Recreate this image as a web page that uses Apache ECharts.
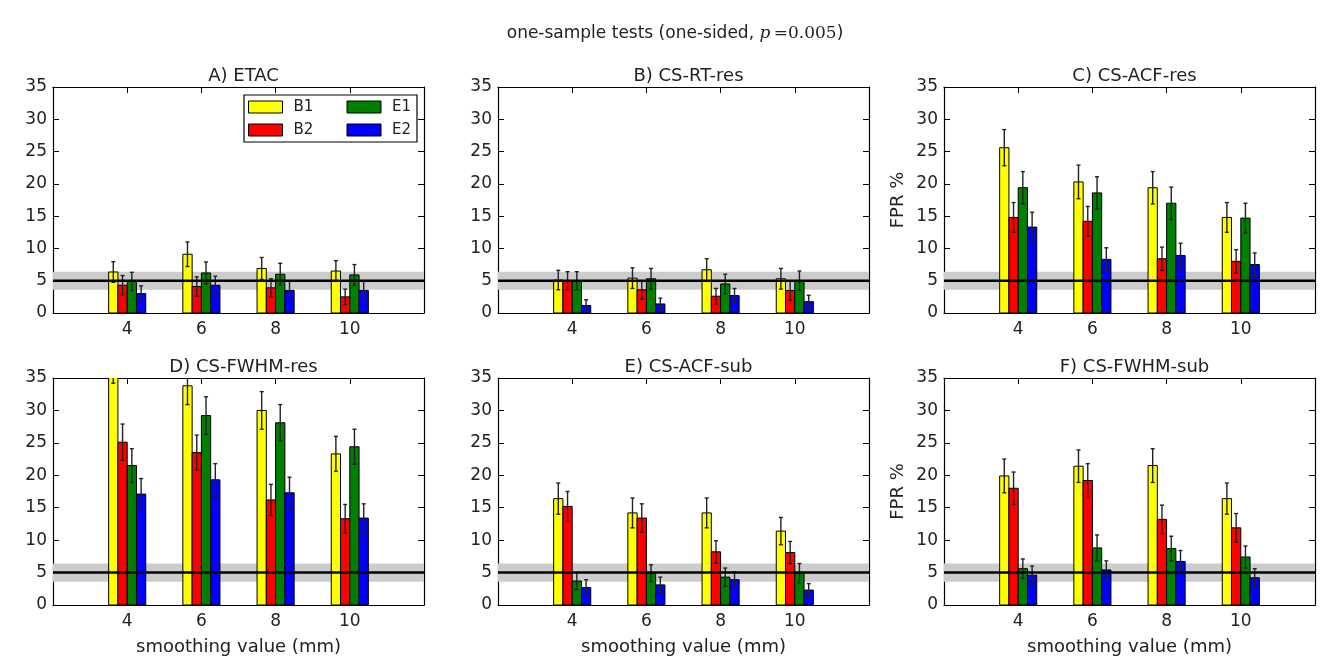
<!DOCTYPE html>
<html>
<head>
<meta charset="utf-8">
<script src="https://cdn.jsdelivr.net/npm/echarts@6/dist/echarts.min.js"></script>
<style>
  html, body { margin: 0; padding: 0; background: #fff; }
  #chart { width: 1323px; height: 666px; }
</style>
</head>
<body>
<div id="chart"></div>
<script>
// Smoothing kernels (mm) on the x axis and the four data groups
const smoothing = [4, 6, 8, 10];
const groups = ['B1', 'B2', 'E1', 'E2'];
const groupColors = ['#ffff00', '#ff0000', '#008000', '#0000ff'];
const yTicks = [0, 5, 10, 15, 20, 25, 30, 35];

// Nominal false-positive rate and its confidence band (%)
const nominalRate = 5;
const bandLow = 3.6;
const bandHigh = 6.4;

const panelTitles = ['A) ETAC', 'B) CS-RT-res', 'C) CS-ACF-res', 'D) CS-FWHM-res', 'E) CS-ACF-sub', 'F) CS-FWHM-sub'];

// False-positive rate (%) per group (rows B1, B2, E1, E2) at each smoothing value
const etacFPR = [[6.35, 9.1, 6.9, 6.5], [4.3, 4.1, 3.9, 2.5], [4.9, 6.2, 6.0, 5.9], [3.0, 4.3, 3.5, 3.5]];
const etacErr = [[1.6, 1.9, 1.7, 1.6], [1.5, 1.5, 1.4, 1.2], [1.4, 1.7, 1.7, 1.6], [1.2, 1.4, 1.4, 1.4]];

const csRtResFPR = [[5.1, 5.4, 6.7, 5.3], [5.0, 3.6, 2.6, 3.5], [5.0, 5.3, 4.5, 5.0], [1.15, 1.4, 2.7, 1.75]];
const csRtResErr = [[1.5, 1.6, 1.7, 1.6], [1.4, 1.4, 1.2, 1.5], [1.4, 1.6, 1.5, 1.5], [0.9, 0.9, 1.1, 1.0]];

const csAcfResFPR = [[25.6, 20.3, 19.4, 14.8], [14.8, 14.2, 8.4, 8.0], [19.4, 18.6, 17.0, 14.7], [13.3, 8.3, 8.9, 7.5]];
const csAcfResErr = [[2.8, 2.6, 2.5, 2.3], [2.3, 2.3, 1.8, 1.8], [2.5, 2.5, 2.5, 2.3], [2.3, 1.8, 1.9, 1.8]];

const csFwhmResFPR = [[37.2, 33.8, 30.0, 23.3], [25.1, 23.5, 16.2, 13.3], [21.5, 29.2, 28.1, 24.4], [17.1, 19.3, 17.3, 13.4]];
const csFwhmResErr = [[3.0, 2.9, 2.9, 2.7], [2.8, 2.7, 2.4, 2.2], [2.6, 2.9, 2.8, 2.7], [2.4, 2.5, 2.4, 2.2]];

const csAcfSubFPR = [[16.4, 14.2, 14.2, 11.4], [15.2, 13.4, 8.2, 8.1], [3.7, 4.9, 4.3, 4.9], [2.7, 3.1, 3.9, 2.3]];
const csAcfSubErr = [[2.4, 2.3, 2.3, 2.1], [2.3, 2.2, 1.7, 1.7], [1.3, 1.3, 1.4, 1.5], [1.2, 1.2, 1.2, 1.0]];

const csFwhmSubFPR = [[19.9, 21.4, 21.5, 16.4], [18.0, 19.2, 13.2, 11.9], [5.6, 8.8, 8.7, 7.4], [4.6, 5.4, 6.7, 4.2]];
const csFwhmSubErr = [[2.6, 2.5, 2.6, 2.4], [2.5, 2.6, 2.2, 2.2], [1.5, 2.0, 1.9, 1.7], [1.4, 1.4, 1.7, 1.4]];

const panelValues = [etacFPR, csRtResFPR, csAcfResFPR, csFwhmResFPR, csAcfSubFPR, csFwhmSubFPR];
const panelErrors = [etacErr, csRtResErr, csAcfResErr, csFwhmResErr, csAcfSubErr, csFwhmSubErr];

// ---- layout ----
const FONT = 'DejaVu Sans';
const TXT = '#222';
const gridLefts = [53, 498, 944];
const gridTops = [87, 378];
const gridW = 371;
const gridH = [226, 227];
const barSpan = 1;            // total width of one group of bars, in x units
const barW = barSpan / groups.length;

const grids = [], xAxes = [], yAxes = [], series = [], titles = [];

titles.push({
  text: 'one-sample tests (one-sided, {p|p}{eq|\u2009=0.005})',
  left: 670, top: 20, textAlign: 'center',
  textStyle: {
    fontFamily: FONT, fontSize: 17, fontWeight: 'normal', color: TXT,
    rich: {
      p: { fontFamily: 'DejaVu Serif', fontStyle: 'italic', fontSize: 17, color: TXT },
      eq: { fontFamily: 'DejaVu Serif', fontSize: 17, color: TXT }
    }
  }
});

for (let p = 0; p < 6; p++) {
  const row = Math.floor(p / 3), col = p % 3;
  const left = gridLefts[col], top = gridTops[row];
  grids.push({ left: left, top: top, width: gridW, height: gridH[row], containLabel: false });

  titles.push({
    text: panelTitles[p], left: left + gridW / 2, top: top - 25, textAlign: 'center',
    textStyle: { fontFamily: FONT, fontSize: 18, fontWeight: 'normal', color: TXT }
  });

  const axisLine = { show: true, onZero: false, lineStyle: { color: '#000', width: 1.2 } };
  const tick = { show: true, inside: true, length: 6, lineStyle: { color: '#000', width: 1 } };

  xAxes.push({
    gridIndex: p, type: 'value', position: 'bottom', min: 2, max: 12, interval: 2,
    axisLine: axisLine, axisTick: tick, splitLine: { show: false },
    axisLabel: {
      showMinLabel: false, showMaxLabel: false, margin: 8,
      fontFamily: FONT, fontSize: 17, color: TXT
    },
    name: row === 1 ? 'smoothing value (mm)' : '',
    nameLocation: 'middle', nameGap: 33,
    nameTextStyle: { fontFamily: FONT, fontSize: 18, color: TXT }
  });
  xAxes.push({
    gridIndex: p, type: 'value', position: 'top', min: 2, max: 12, interval: 2,
    axisLine: axisLine, axisTick: tick, splitLine: { show: false }, axisLabel: { show: false }
  });
  yAxes.push({
    gridIndex: p, type: 'value', position: 'left', min: yTicks[0], max: yTicks[yTicks.length - 1], interval: 5,
    axisLine: axisLine, axisTick: tick, splitLine: { show: false },
    axisLabel: { margin: 6, fontFamily: FONT, fontSize: 17, color: TXT },
    name: col === 2 ? 'FPR %' : '',
    nameLocation: 'middle', nameGap: 37,
    nameTextStyle: { fontFamily: FONT, fontSize: 18, color: TXT }
  });
  yAxes.push({
    gridIndex: p, type: 'value', position: 'right', min: yTicks[0], max: yTicks[yTicks.length - 1], interval: 5,
    axisLine: axisLine, axisTick: tick, splitLine: { show: false }, axisLabel: { show: false }
  });

  const xi = 2 * p, yi = 2 * p;

  // shaded confidence band behind the bars
  series.push({
    type: 'custom', name: 'band', xAxisIndex: xi, yAxisIndex: yi, z: 1, silent: true,
    data: [[bandLow, bandHigh]],
    renderItem: function (params, api) {
      const cs = params.coordSys;
      const yHi = api.coord([2, api.value(1)])[1];
      const yLo = api.coord([2, api.value(0)])[1];
      return { type: 'rect', shape: { x: cs.x, y: yHi, width: cs.width, height: yLo - yHi },
               style: { fill: '#cccccc' } };
    }
  });

  // bars with error bars, one series per group
  for (let g = 0; g < groups.length; g++) {
    const vals = panelValues[p][g], errs = panelErrors[p][g];
    series.push({
      type: 'custom', name: groups[g], xAxisIndex: xi, yAxisIndex: yi, z: 2, clip: true,
      data: smoothing.map((s, i) => [s, vals[i], errs[i]]),
      encode: { x: 0, y: 1 },
      renderItem: function (params, api) {
        const x = api.value(0), v = api.value(1), e = api.value(2);
        const x0 = x - barSpan / 2 + g * barW;
        const pBase = api.coord([x0, 0]);
        const pTop = api.coord([x0 + barW, v]);
        const xm = api.coord([x0 + barW / 2, 0])[0];
        const yUp = api.coord([x0, v + e])[1];
        const yDn = api.coord([x0, v - e])[1];
        const cap = 2;
        const errStyle = { stroke: '#222', lineWidth: 1.4 };
        return {
          type: 'group',
          children: [
            { type: 'rect', shape: { x: pBase[0], y: pTop[1], width: pTop[0] - pBase[0], height: pBase[1] - pTop[1] },
              style: { fill: groupColors[g], stroke: '#000', lineWidth: 1 } },
            { type: 'line', shape: { x1: xm, y1: yUp, x2: xm, y2: yDn }, style: errStyle },
            { type: 'line', shape: { x1: xm - cap, y1: yUp, x2: xm + cap, y2: yUp }, style: errStyle },
            { type: 'line', shape: { x1: xm - cap, y1: yDn, x2: xm + cap, y2: yDn }, style: errStyle }
          ]
        };
      }
    });
  }

  // nominal rate line drawn over the bars
  series.push({
    type: 'custom', name: 'nominal', xAxisIndex: xi, yAxisIndex: yi, z: 4, silent: true,
    data: [[nominalRate]],
    renderItem: function (params, api) {
      const cs = params.coordSys;
      const y = api.coord([2, api.value(0)])[1];
      return { type: 'line', shape: { x1: cs.x, y1: y, x2: cs.x + cs.width, y2: y },
               style: { stroke: '#000', lineWidth: 2.5 } };
    }
  });
}

const legendOrder = ['B1', 'E1', 'B2', 'E2'];
const legendTextWidth = { B1: 46, B2: 46, E1: 21, E2: 21 };

const option = {
  backgroundColor: '#fff',
  animation: false,
  title: titles,
  grid: grids,
  xAxis: xAxes,
  yAxis: yAxes,
  legend: {
    left: 244, top: 95, width: 170, orient: 'horizontal',
    selectedMode: false, icon: 'rect', itemWidth: 34, itemHeight: 12, itemGap: 7,
    padding: 4, borderColor: '#000', borderWidth: 1.2, backgroundColor: '#fff', z: 10,
    textStyle: { fontFamily: FONT, fontSize: 15, color: TXT, lineHeight: 16, padding: [0, 0, 0, 6] },
    data: legendOrder.map(n => ({
      name: n,
      itemStyle: { color: groupColors[groups.indexOf(n)], borderColor: '#000', borderWidth: 1 },
      textStyle: { width: legendTextWidth[n] }
    }))
  },
  series: series
};

const chart = echarts.init(document.getElementById('chart'), null, { renderer: 'canvas' });
chart.setOption(option);
</script>
</body>
</html>
